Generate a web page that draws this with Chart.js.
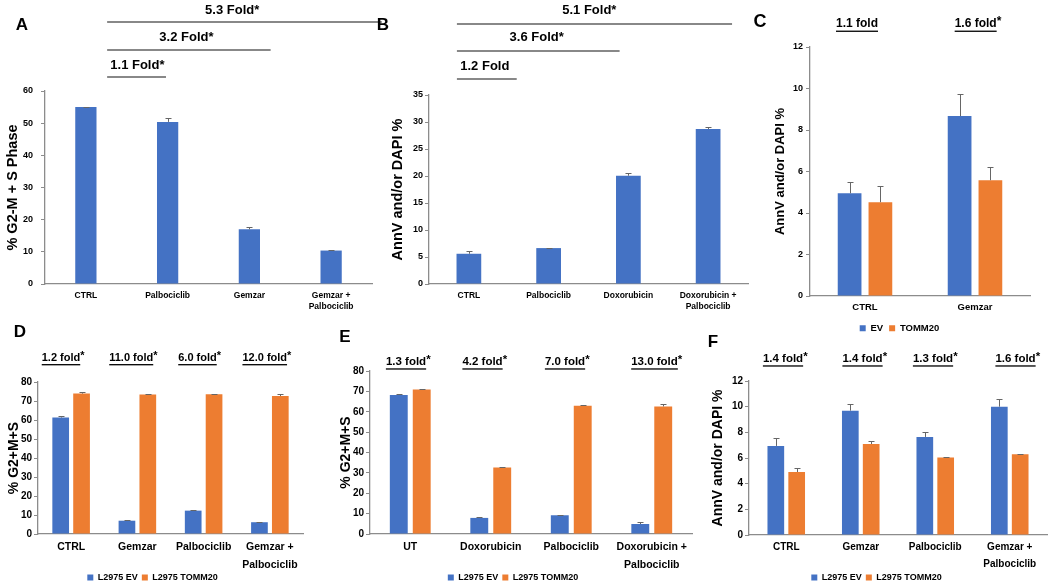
<!DOCTYPE html>
<html>
<head>
<meta charset="utf-8">
<script src="https://cdn.jsdelivr.net/npm/chart.js@4.4.1/dist/chart.umd.min.js"></script>
<style>
  body { margin: 0; background: #fff; width: 1050px; height: 585px; overflow: hidden; position: relative; }
  canvas { position: absolute; }
</style>
</head>
<body>
<canvas id="chartA" width="385" height="318" style="left:0;top:0"></canvas>
<canvas id="chartB" width="388" height="318" style="left:372px;top:0"></canvas>
<canvas id="chartC" width="298" height="343" style="left:752px;top:0"></canvas>
<canvas id="chartD" width="322" height="274" style="left:0;top:318px"></canvas>
<canvas id="chartE" width="378" height="274" style="left:322px;top:318px"></canvas>
<canvas id="chartF" width="350" height="274" style="left:700px;top:318px"></canvas>
<script>
// ### colors ###
const BLUE = "#4472C4";
const ORANGE = "#ED7D31";
const AXIS = "#8c8c8c";
const ERR = "#666666";
const FONT = "'Liberation Sans', Arial, sans-serif";

// ### data: panel A ###
const labelsA = ["CTRL", "Palbociclib", "Gemzar", ["Gemzar +", "Palbociclib"]];
const valuesA = [55.0, 50.4, 17.0, 10.4];
const errorsA = [0.15, 1.3, 0.7, 0.3];
const foldsA = ["1.1 Fold*", "3.2 Fold*", "5.3 Fold*"];

// ### data: panel B ###
const labelsB = ["CTRL", "Palbociclib", "Doxorubicin", ["Doxorubicin +", "Palbociclib"]];
const valuesB = [5.6, 6.65, 20.05, 28.7];
const errorsB = [0.5, 0.1, 0.43, 0.4];
const foldsB = ["1.2 Fold", "3.6 Fold*", "5.1 Fold*"];

// ### data: panel C ###
const labelsC = ["CTRL", "Gemzar"];
const seriesC = ["EV", "TOMM20"];
const evC = [4.95, 8.67];
const evErrC = [0.55, 1.05];
const tommC = [4.52, 5.58];
const tommErrC = [0.76, 0.63];
const foldsC = ["1.1 fold", "1.6 fold*"];

// ### data: panel D ###
const labelsD = ["CTRL", "Gemzar", "Palbociclib", ["Gemzar +", "Palbociclib"]];
const seriesLines = ["L2975 EV", "L2975 TOMM20"];
const evD = [61.3, 7.0, 12.3, 6.2];
const evErrD = [0.9, 0.4, 0.1, 0.3];
const tommD = [73.9, 73.4, 73.5, 72.6];
const tommErrD = [1.0, 0.4, 0.3, 1.0];
const foldsD = ["1.2 fold*", "11.0 fold*", "6.0 fold*", "12.0 fold*"];

// ### data: panel E ###
const labelsE = ["UT", "Doxorubicin", "Palbociclib", ["Doxorubicin +", "Palbociclib"]];
const evE = [68.2, 7.9, 9.2, 4.9];
const evErrE = [0.3, 0.3, 0.3, 0.8];
const tommE = [70.9, 32.6, 63.0, 62.6];
const tommErrE = [0.4, 0.5, 0.4, 1.0];
const foldsE = ["1.3 fold*", "4.2 fold*", "7.0 fold*", "13.0 fold*"];

// ### data: panel F ###
const labelsF = ["CTRL", "Gemzar", "Palbociclib", ["Gemzar +", "Palbociclib"]];
const evF = [6.94, 9.69, 7.64, 10.0];
const evErrF = [0.65, 0.5, 0.4, 0.6];
const tommF = [4.91, 7.09, 6.03, 6.29];
const tommErrF = [0.34, 0.23, 0.06, 0.06];
const foldsF = ["1.4 fold*", "1.4 fold*", "1.3 fold*", "1.6 fold*"];

// ### plugins ###
const errorBarPlugin = {
  id: "errorBars",
  afterDatasetsDraw(chart) {
    const ctx = chart.ctx;
    const yScale = chart.scales.y;
    ctx.save();
    ctx.strokeStyle = ERR;
    ctx.lineWidth = 1;
    chart.data.datasets.forEach((ds, di) => {
      if (!ds.errors) return;
      const meta = chart.getDatasetMeta(di);
      meta.data.forEach((bar, i) => {
        const top = Math.round(yScale.getPixelForValue(ds.data[i] + ds.errors[i])) + 0.5;
        const x = Math.round(bar.x) + 0.5;
        ctx.beginPath();
        ctx.moveTo(x, bar.y);
        ctx.lineTo(x, top);
        ctx.moveTo(x - 3, top);
        ctx.lineTo(x + 3, top);
        ctx.stroke();
      });
    });
    ctx.restore();
  },
};

// splits "1.2 fold*" into the underlined part and the asterisk
function splitStar(text) {
  return text.endsWith("*") ? [text.slice(0, -1), "*"] : [text, ""];
}

const foldNotesPlugin = {
  id: "foldNotes",
  afterDraw(chart, args, opts) {
    const ctx = chart.ctx;
    const xs = chart.scales.x;
    const unit = xs.getPixelForValue(1) - xs.getPixelForValue(0);
    const at = (u) => xs.getPixelForValue(0) + u * unit;
    ctx.save();
    ctx.fillStyle = "#000";
    ctx.textBaseline = "middle";

    if (opts.letter) {
      ctx.font = "bold " + opts.letter.size + "px " + FONT;
      ctx.textAlign = "center";
      ctx.fillText(opts.letter.text, opts.letter.x, opts.letter.y);
    }

    // fold-change labels with a comparison line (panels A, B)
    (opts.brackets || []).forEach((b) => {
      ctx.font = "bold " + opts.size + "px " + FONT;
      ctx.textAlign = "center";
      ctx.fillText(b.text, at(b.tx), b.ty);
      ctx.strokeStyle = "#606060";
      ctx.lineWidth = 1.3;
      ctx.beginPath();
      ctx.moveTo(at(b.x1), b.ly);
      ctx.lineTo(at(b.x2), b.ly);
      ctx.stroke();
    });

    // underlined fold-change labels above each group (panels C-F)
    (opts.texts || []).forEach((t, i) => {
      const [main, star] = splitStar(t);
      ctx.font = "bold " + opts.size + "px " + FONT;
      const w = ctx.measureText(main).width;
      const sw = star ? ctx.measureText(star).width : 0;
      const cx = xs.getPixelForValue(i) + (opts.dx ? opts.dx[i] : 0);
      const start = cx - (w + sw) / 2;
      ctx.textAlign = "left";
      ctx.fillText(main, start, opts.y);
      if (star) ctx.fillText(star, start + w, opts.y - opts.size * 0.2);
      ctx.fillRect(start, opts.y + opts.size * 0.55, w, 1.3);
    });
    ctx.restore();
  },
};

// ### chart builder ###
function buildPanel(id, spec) {
  const canvas = document.getElementById(id);
  return new Chart(canvas, {
    type: "bar",
    data: { labels: spec.labels, datasets: spec.datasets },
    options: {
      responsive: false,
      animation: false,
      events: [],
      layout: { padding: spec.padding },
      categoryPercentage: spec.catPct,
      barPercentage: spec.barPct,
      plugins: {
        legend: spec.legendFont
          ? {
              display: true,
              position: "bottom",
              labels: {
                boxWidth: 6,
                boxHeight: 6,
                padding: spec.legendPad,
                color: "#000",
                font: { family: FONT, size: spec.legendFont, weight: "bold" },
              },
            }
          : { display: false },
        tooltip: { enabled: false },
        foldNotes: spec.notes,
      },
      scales: {
        x: {
          grid: { display: false, drawTicks: false },
          border: { display: true, color: AXIS, width: 1.3 },
          ticks: {
            color: "#000",
            padding: spec.catPad,
            maxRotation: 0,
            autoSkip: false,
            font: { family: FONT, size: spec.catFont, weight: "bold", lineHeight: spec.catLine },
          },
          afterFit: (s) => {
            s.height = spec.xHeight;
          },
        },
        y: {
          min: 0,
          max: spec.yMax,
          ticks: {
            stepSize: spec.yStep,
            color: "#000",
            padding: spec.tickPad,
            font: { family: FONT, size: spec.tickFont, weight: "bold" },
          },
          grid: { display: true, drawOnChartArea: false, drawTicks: true, tickLength: 4, color: AXIS },
          border: { display: true, color: AXIS, width: 1.3 },
          title: {
            display: true,
            text: spec.yTitle,
            color: "#000",
            padding: { top: 4, bottom: 0 },
            font: { family: FONT, size: spec.titleFont, weight: "bold" },
          },
          afterFit: (s) => {
            s.width = spec.yWidth;
          },
        },
      },
    },
    plugins: [errorBarPlugin, foldNotesPlugin],
  });
}

function pairDatasets(names, ev, evErr, tomm, tommErr) {
  return [
    { label: names[0], data: ev, errors: evErr, backgroundColor: BLUE },
    { label: names[1], data: tomm, errors: tommErr, backgroundColor: ORANGE },
  ];
}

// ### render ###
function main() {
  buildPanel("chartA", {
    labels: labelsA,
    datasets: [{ label: "A", data: valuesA, errors: errorsA, backgroundColor: BLUE }],
    padding: { left: 0, right: 13, top: 91, bottom: 0 },
    catPct: 1, barPct: 0.26,
    yMax: 60, yStep: 10, yTitle: "% G2-M + S Phase",
    yWidth: 45, xHeight: 34,
    tickFont: 9, tickPad: 8, catFont: 8.5, catLine: 1.3, catPad: 6, titleFont: 14.5,
    notes: {
      letter: { text: "A", x: 22, y: 25, size: 17 },
      size: 13,
      brackets: [
        { text: foldsA[0], tx: 0.63, ty: 65, x1: 0.26, x2: 0.98, ly: 77 },
        { text: foldsA[1], tx: 1.23, ty: 37, x1: 0.26, x2: 2.26, ly: 50 },
        { text: foldsA[2], tx: 1.79, ty: 10, x1: 0.26, x2: 3.62, ly: 22 },
      ],
    },
  });

  buildPanel("chartB", {
    labels: labelsB,
    datasets: [{ label: "B", data: valuesB, errors: errorsB, backgroundColor: BLUE }],
    padding: { left: 13, right: 12, top: 95, bottom: 0 },
    catPct: 1, barPct: 0.31,
    yMax: 35, yStep: 5, yTitle: "AnnV and/or DAPI %",
    yWidth: 44, xHeight: 34,
    tickFont: 9, tickPad: 2, catFont: 8.5, catLine: 1.3, catPad: 6, titleFont: 14.5,
    notes: {
      letter: { text: "B", x: 11, y: 25, size: 17 },
      size: 13,
      brackets: [
        { text: foldsB[0], tx: 0.2, ty: 66, x1: -0.15, x2: 0.6, ly: 79 },
        { text: foldsB[1], tx: 0.85, ty: 37, x1: -0.15, x2: 1.89, ly: 51 },
        { text: foldsB[2], tx: 1.51, ty: 10, x1: -0.15, x2: 3.3, ly: 24 },
      ],
    },
  });

  buildPanel("chartC", {
    labels: labelsC,
    datasets: pairDatasets(seriesC, evC, evErrC, tommC, tommErrC),
    padding: { left: 17, right: 20, top: 47, bottom: 0 },
    catPct: 0.56, barPct: 0.77,
    yMax: 12, yStep: 2, yTitle: "AnnV and/or DAPI %",
    yWidth: 41, xHeight: 21.5,
    tickFont: 9, tickPad: 3, catFont: 9.5, catLine: 1.2, catPad: 6, titleFont: 13,
    legendFont: 9.5, legendPad: 6,
    notes: {
      letter: { text: "C", x: 8, y: 22, size: 18 },
      size: 12, y: 24, dx: [-8, 3],
      texts: foldsC,
    },
  });

  buildPanel("chartD", {
    labels: labelsD,
    datasets: pairDatasets(seriesLines, evD, evErrD, tommD, tommErrD),
    padding: { left: 2, right: 19, top: 64, bottom: 0 },
    catPct: 0.63, barPct: 0.8,
    yMax: 80, yStep: 10, yTitle: "% G2+M+S",
    yWidth: 36, xHeight: 35,
    tickFont: 10, tickPad: 2, catFont: 10.5, catLine: 1.7, catPad: 4, titleFont: 14,
    legendFont: 9, legendPad: 4,
    notes: {
      letter: { text: "D", x: 20, y: 14, size: 17 },
      size: 11, y: 40, dx: [-8, -4, -4, -3],
      texts: foldsD,
    },
  });

  buildPanel("chartE", {
    labels: labelsE,
    datasets: pairDatasets(seriesLines, evE, evErrE, tommE, tommErrE),
    padding: { left: 12, right: 8, top: 53, bottom: 0 },
    catPct: 0.57, barPct: 0.78,
    yMax: 80, yStep: 10, yTitle: "% G2+M+S",
    yWidth: 36, xHeight: 35,
    tickFont: 10, tickPad: 2, catFont: 10.5, catLine: 1.7, catPad: 4, titleFont: 14,
    legendFont: 9, legendPad: 4,
    notes: {
      letter: { text: "E", x: 23, y: 19, size: 17 },
      size: 11.5, y: 44, dx: [-2, -6, -4, 5],
      texts: foldsE,
    },
  });

  buildPanel("chartF", {
    labels: labelsF,
    datasets: pairDatasets(seriesLines, evF, evErrF, tommF, tommErrF),
    padding: { left: 6, right: 3, top: 63, bottom: 0 },
    catPct: 0.56, barPct: 0.8,
    yMax: 12, yStep: 2, yTitle: "AnnV and/or DAPI %",
    yWidth: 43, xHeight: 34,
    tickFont: 10, tickPad: 2, catFont: 10, catLine: 1.7, catPad: 4, titleFont: 14,
    legendFont: 9, legendPad: 4,
    notes: {
      letter: { text: "F", x: 13, y: 24, size: 17 },
      size: 11.5, y: 41, dx: [-1, 4, 0, 8],
      texts: foldsF,
    },
  });
}

main();
</script>
</body>
</html>
